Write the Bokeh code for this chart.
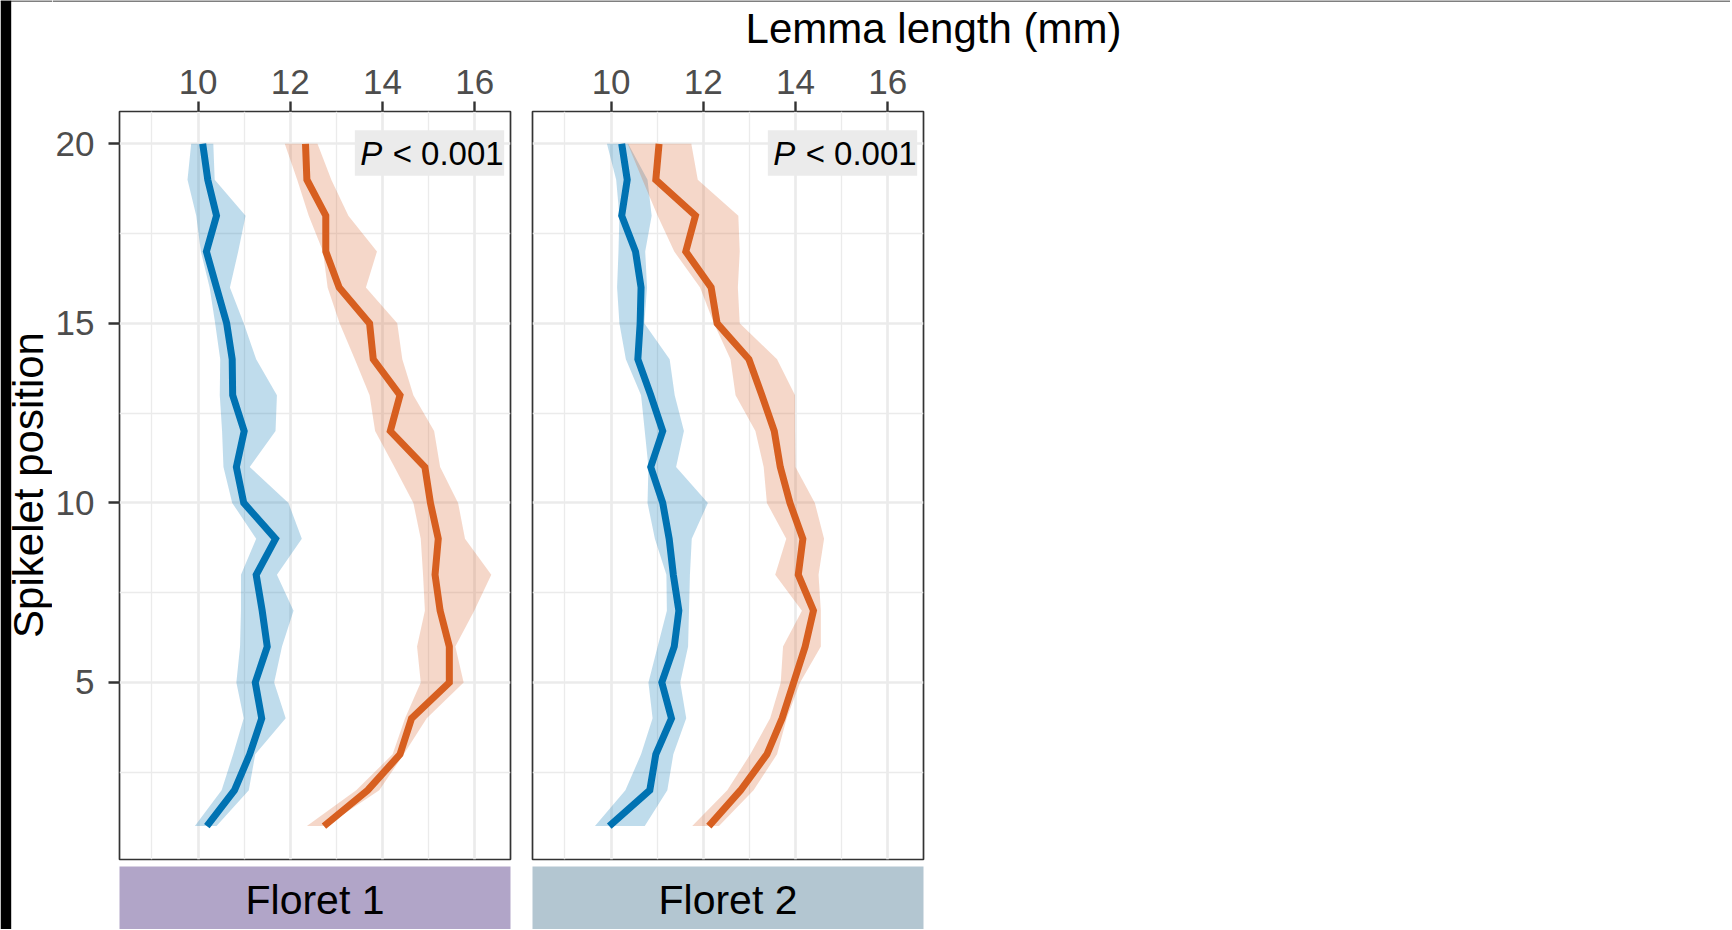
import math
from bokeh.plotting import figure
from bokeh.layouts import row, column
from bokeh.models import Range1d, FixedTicker
from bokeh.embed import file_html
from bokeh.resources import INLINE
from bokeh.core.properties import value

FONT = "Liberation Sans"

# ---------------- data ----------------
positions = [1, 2, 3, 4, 5, 6, 7, 8, 9, 10, 11, 12, 13, 14, 15, 16, 17, 18, 19, 20]

x_ticks = [10, 12, 14, 16]
x_minor = [9, 11, 13, 15]
y_ticks = [5, 10, 15, 20]
y_minor = [2.5, 7.5, 12.5, 17.5]

strip_labels = ["Floret 1", "Floret 2"]
p_text = ["P", "< 0.001"]
x_title = "Lemma length (mm)"
y_title = "Spikelet position"

# Floret 1
f1_blue_mean = [10.19, 10.79, 11.12, 11.38, 11.24, 11.50, 11.39, 11.26, 11.68, 10.99,
                10.83, 11.00, 10.75, 10.74, 10.62, 10.40, 10.18, 10.40, 10.21, 10.10]
f1_blue_lo = [9.93, 10.51, 10.76, 10.99, 10.83, 10.91, 10.93, 10.93, 11.26, 10.74,
              10.55, 10.52, 10.47, 10.48, 10.37, 10.25, 10.06, 9.96, 9.77, 9.85]
f1_blue_hi = [10.40, 11.10, 11.24, 11.90, 11.65, 11.82, 12.07, 11.71, 12.25, 11.96,
              11.12, 11.68, 11.71, 11.26, 10.99, 10.69, 10.87, 11.03, 10.36, 10.33]
f1_orange_mean = [12.73, 13.68, 14.38, 14.63, 15.45, 15.45, 15.25, 15.14, 15.21, 15.04,
                  14.92, 14.17, 14.38, 13.80, 13.72, 13.06, 12.77, 12.77, 12.36, 12.33]
f1_orange_lo = [12.36, 13.43, 14.22, 14.49, 14.83, 14.75, 14.92, 14.88, 14.83, 14.67,
                14.26, 13.84, 13.72, 13.40, 13.07, 12.81, 12.71, 12.40, 12.15, 11.88]
f1_orange_hi = [12.77, 13.93, 14.46, 14.96, 15.76, 15.58, 15.99, 16.36, 15.79, 15.64,
                15.25, 15.12, 14.67, 14.43, 14.32, 13.64, 13.88, 13.26, 12.89, 12.59]

# Floret 2
f2_blue_mean = [9.96, 10.84, 10.97, 11.31, 11.10, 11.37, 11.47, 11.35, 11.26, 11.12,
                10.86, 11.12, 10.86, 10.58, 10.63, 10.65, 10.53, 10.23, 10.35, 10.23]
f2_blue_lo = [9.65, 10.31, 10.65, 10.90, 10.81, 11.01, 11.21, 11.20, 10.95, 10.79,
              10.81, 10.73, 10.65, 10.32, 10.18, 10.13, 10.16, 10.18, 10.11, 9.91]
f2_blue_hi = [10.73, 11.22, 11.35, 11.63, 11.50, 11.67, 11.69, 11.71, 11.75, 12.10,
              11.41, 11.58, 11.38, 11.27, 10.72, 10.78, 10.74, 10.88, 10.79, 10.37]
f2_orange_mean = [12.12, 12.81, 13.38, 13.71, 13.96, 14.21, 14.39, 14.06, 14.16, 13.88,
                  13.67, 13.54, 13.27, 12.99, 12.30, 12.17, 11.62, 11.83, 10.97, 11.04]
f2_orange_lo = [11.76, 12.52, 13.02, 13.45, 13.68, 13.73, 14.14, 13.56, 13.80, 13.38,
                13.31, 13.13, 12.70, 12.59, 12.23, 11.93, 11.37, 11.01, 10.68, 10.36]
f2_orange_hi = [12.34, 13.09, 13.60, 13.81, 14.10, 14.55, 14.55, 14.50, 14.62, 14.42,
                14.00, 13.99, 13.99, 13.60, 12.79, 12.75, 12.79, 12.76, 11.88, 11.74]

# ---------------- styling / layout ----------------
BLUE = "#0072B2"
ORANGE = "#D75F20"
ORANGE_FILL = "#D86028"
STRIP_COLORS = ["#B1A5C8", "#B3C6D1"]
GRID = "#EBEBEB"
DARK = "#333333"
TICK_TXT = "#4D4D4D"

X_RANGE = (8.295, 16.777)
Y_RANGE = (0.07, 20.90)

SIDE_W = 52          # left strip holding the y-axis title
HEAD_H = 52          # top strip holding the x-axis title
FRAME_W = 391
FRAME_H = 748
TOP = 59             # space above the frame (below the header)
STRIP_H = 67
TOTAL_W = 1730
TOTAL_H = HEAD_H + TOP + FRAME_H + 3 + STRIP_H

P1_ML, P1_MR = 119 - SIDE_W, 11
P2_ML = 11
P2_MR = TOTAL_W - SIDE_W - (P1_ML + FRAME_W + P1_MR) - (P2_ML + FRAME_W)

TICK_FS = "35px"
TITLE_FS = "42px"
STRIP_FS = "41px"
LINE_W = 7


def bare_fig(w, h, xr, yr):
    f = figure(width=w, height=h, x_range=Range1d(*xr), y_range=Range1d(*yr),
               x_axis_location=None, y_axis_location=None,
               min_border_left=0, min_border_right=0,
               min_border_top=0, min_border_bottom=0,
               output_backend="svg", toolbar_location=None)
    f.outline_line_color = None
    f.border_fill_color = "white"
    f.background_fill_color = "white"
    f.xgrid.grid_line_color = None
    f.ygrid.grid_line_color = None
    return f


def make_panel(blue, orange, left_axis, ml, mr):
    p = figure(width=ml + FRAME_W + mr, height=TOP + FRAME_H + 3,
               x_range=Range1d(*X_RANGE), y_range=Range1d(*Y_RANGE),
               x_axis_location="above",
               y_axis_location="left" if left_axis else None,
               min_border_left=ml, min_border_right=mr,
               min_border_top=TOP, min_border_bottom=3,
               output_backend="svg", toolbar_location=None)
    p.background_fill_color = "white"
    p.border_fill_color = "white"
    p.outline_line_color = DARK
    p.outline_line_width = 1.7

    p.xgrid.ticker = FixedTicker(ticks=x_ticks, minor_ticks=x_minor)
    p.ygrid.ticker = FixedTicker(ticks=y_ticks, minor_ticks=y_minor)
    for g in (p.xgrid, p.ygrid):
        g.grid_line_color = GRID
        g.grid_line_width = 2.7
        g.minor_grid_line_color = GRID
        g.minor_grid_line_width = 1.35

    ax = p.xaxis[0]
    ax.ticker = FixedTicker(ticks=x_ticks, minor_ticks=x_minor)
    ax.axis_line_color = None
    ax.major_tick_line_color = DARK
    ax.major_tick_line_width = 2.4
    ax.major_tick_out = 10
    ax.major_tick_in = 0
    ax.minor_tick_line_color = None
    ax.major_label_text_font = FONT
    ax.major_label_text_font_size = TICK_FS
    ax.major_label_text_color = TICK_TXT
    ax.major_label_standoff = 8

    if left_axis:
        ay = p.yaxis[0]
        ay.ticker = FixedTicker(ticks=y_ticks, minor_ticks=y_minor)
        ay.axis_line_color = None
        ay.major_tick_line_color = DARK
        ay.major_tick_line_width = 2.4
        ay.major_tick_out = 11
        ay.major_tick_in = 0
        ay.minor_tick_line_color = None
        ay.major_label_text_font = FONT
        ay.major_label_text_font_size = TICK_FS
        ay.major_label_text_color = TICK_TXT
        ay.major_label_standoff = 14

    bm, bl, bh = blue
    om, ol, oh = orange
    p.harea(x1=bl, x2=bh, y=positions, fill_color=BLUE, fill_alpha=0.25)
    p.harea(x1=ol, x2=oh, y=positions, fill_color=ORANGE_FILL, fill_alpha=0.25)
    p.line(x=bm, y=positions, line_color=BLUE, line_width=LINE_W,
           line_join="miter", line_cap="butt")
    p.line(x=om, y=positions, line_color=ORANGE, line_width=LINE_W,
           line_join="miter", line_cap="butt")

    # P-value label
    p.quad(left=[13.40], right=[16.64], bottom=[19.11], top=[20.38],
           fill_color=GRID, line_color=None)
    p.text(x=[13.52], y=[19.73], text=[p_text[0]], text_font=value(FONT),
           text_font_style="italic", text_font_size="33px",
           text_align="left", text_baseline="middle", text_color="black")
    p.text(x=[14.22], y=[19.73], text=[p_text[1]], text_font=value(FONT),
           text_font_size="33px",
           text_align="left", text_baseline="middle", text_color="black")
    return p


def make_strip(label, color, ml, mr):
    s = figure(width=ml + FRAME_W + mr, height=STRIP_H,
               x_range=Range1d(0, 1), y_range=Range1d(0, 1),
               x_axis_location=None, y_axis_location=None,
               min_border_left=ml, min_border_right=mr,
               min_border_top=4, min_border_bottom=0,
               output_backend="svg", toolbar_location=None)
    s.background_fill_color = color
    s.border_fill_color = "white"
    s.outline_line_color = None
    s.xgrid.grid_line_color = None
    s.ygrid.grid_line_color = None
    s.text(x=[0.5], y=[0.47], text=[label], text_font=value(FONT),
           text_font_size=STRIP_FS, text_align="center",
           text_baseline="middle", text_color="black")
    return s


# side strip: black edge + rotated y title
side = bare_fig(SIDE_W, TOTAL_H, (0, SIDE_W), (0, TOTAL_H))
side.quad(left=[0], right=[10.7], bottom=[0], top=[TOTAL_H],
          fill_color="black", line_color=None)
side.quad(left=[0], right=[SIDE_W], bottom=[TOTAL_H - 1], top=[TOTAL_H],
          fill_color="black", line_color=None)
side.text(x=[28], y=[TOTAL_H - 484.5], text=[y_title], angle=[math.pi / 2],
          text_font=value(FONT), text_font_size=TITLE_FS,
          text_align="center", text_baseline="middle", text_color="black")

# header: thin top edge + x title
head_w = TOTAL_W - SIDE_W
head = bare_fig(head_w, HEAD_H, (0, head_w), (0, HEAD_H))
head.quad(left=[0], right=[head_w], bottom=[HEAD_H - 1], top=[HEAD_H],
          fill_color="black", line_color=None)
head.text(x=[933 - SIDE_W], y=[HEAD_H - 27.5], text=[x_title],
          text_font=value(FONT), text_font_size=TITLE_FS,
          text_align="center", text_baseline="middle", text_color="black")

p1 = make_panel((f1_blue_mean, f1_blue_lo, f1_blue_hi),
                (f1_orange_mean, f1_orange_lo, f1_orange_hi),
                True, P1_ML, P1_MR)
s1 = make_strip(strip_labels[0], STRIP_COLORS[0], P1_ML, P1_MR)

p2 = make_panel((f2_blue_mean, f2_blue_lo, f2_blue_hi),
                (f2_orange_mean, f2_orange_lo, f2_orange_hi),
                False, P2_ML, P2_MR)
s2 = make_strip(strip_labels[1], STRIP_COLORS[1], P2_ML, P2_MR)

panels = row(column(p1, s1, spacing=0), column(p2, s2, spacing=0), spacing=0)
layout = row(side, column(head, panels, spacing=0), spacing=0)

open("out.html", "w").write(file_html(layout, INLINE))
